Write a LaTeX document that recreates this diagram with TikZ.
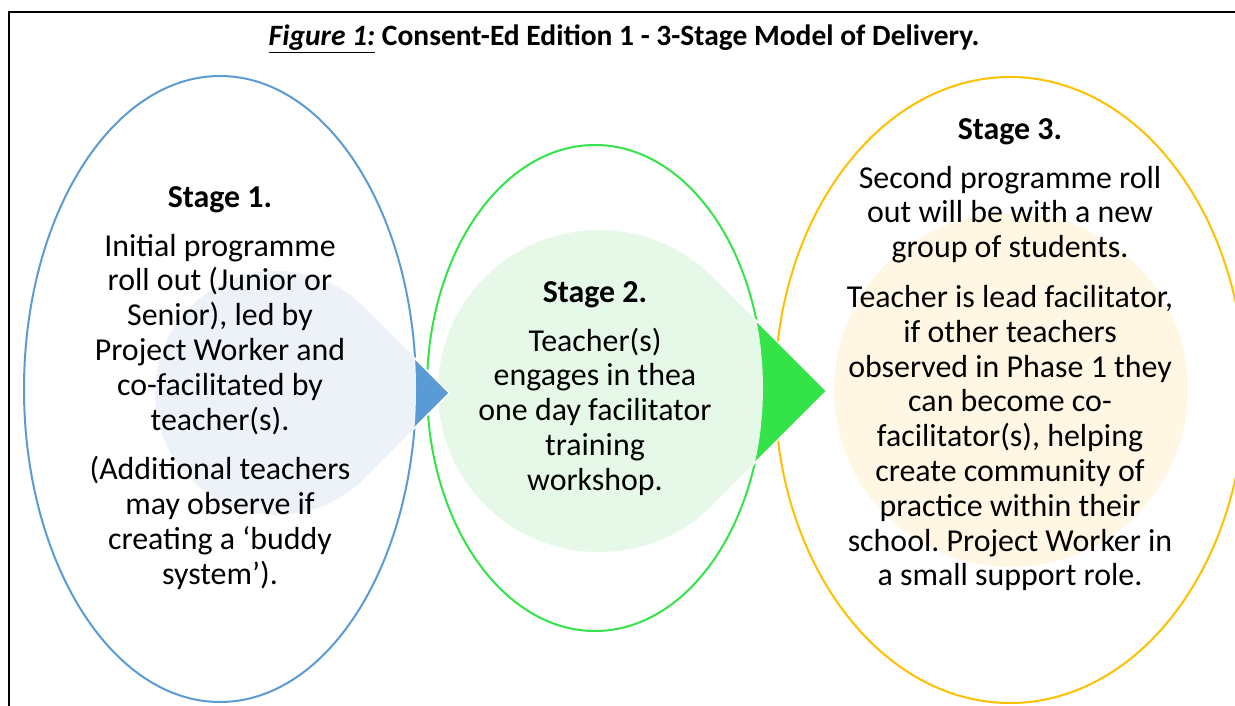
\documentclass[tikz,border=0pt]{standalone}
\usepackage{fontspec}
\setmainfont{Carlito}
\frenchspacing
\definecolor{blueline}{HTML}{5B9BD5}
\definecolor{bluelight}{HTML}{EDF2F9}
\definecolor{greenline}{HTML}{33E348}
\definecolor{greenlight}{HTML}{E6F9E8}
\definecolor{yellowline}{HTML}{FFC000}
\definecolor{yellowlight}{HTML}{FFF6E3}
\begin{document}
\begin{tikzpicture}[x=1pt,y=-1pt,
  ring/.style={line width=2pt},
  tipshape/.style={draw=white, line width=1.5pt},
  txt/.style={font=\fontsize{31.9}{34.8}\selectfont\frenchspacing, align=center, inner sep=0pt, text=black},
  ttl/.style={font=\fontsize{29.5}{32}\selectfont\bfseries, inner sep=0pt}]
\useasboundingbox (0,0) rectangle (1235,706);
\clip (0,0) rectangle (1235,706);
% frame
\draw[line width=1.8pt] (9,710) -- (9,12) -- (1240,12);
% ellipses
\draw[ring, blueline] (220,389) ellipse [x radius=196, y radius=313];
\draw[ring, greenline] (595,388) ellipse [x radius=168, y radius=243];
\draw[ring, yellowline] (1010,390) ellipse [x radius=235, y radius=313];
% yellow disc
\fill[yellowlight] (1011,390) circle [radius=177];
% green teardrop
\path[tipshape, fill=greenline] (826.7,391) -- (712.8,277.2) arc[start angle=-45, end angle=-315, radius=161] -- cycle;
\begin{scope}
\clip (595,388) ellipse [x radius=168, y radius=243];
\fill[greenlight] (826.7,391) -- (712.8,277.2) arc[start angle=-45, end angle=-315, radius=161] -- cycle;
\end{scope}
% blue teardrop
\path[tipshape, fill=blueline] (449.5,393) -- (363.3,306.7) arc[start angle=-45, end angle=-315, radius=122] -- cycle;
\begin{scope}
\clip (220,389) ellipse [x radius=196, y radius=313];
\fill[bluelight] (449.5,393) -- (363.3,306.7) arc[start angle=-45, end angle=-315, radius=122] -- cycle;
\end{scope}
% title
\node[ttl, anchor=base] (title) at (624,46) {\underline{\textit{Figure 1:}} Consent-Ed Edition 1 - 3-Stage Model of Delivery.};
% texts
\node[txt, anchor=north] (s1) at (220,182) {\rule{0pt}{25pt}\textbf{Stage 1.}\\[14pt]
Initial programme\\ roll out (Junior or\\ Senior), led by\\ Project Worker and\\ co-facilitated by\\ teacher(s).\\[15pt]
(Additional teachers\\ may observe if\\ creating a ‘buddy\\ system’).};
\node[txt, anchor=north] (s2) at (595,277) {\rule{0pt}{25pt}\textbf{Stage 2.}\\[14pt]
Teacher(s)\\ engages in thea\\ one day facilitator\\ training\\ workshop.};
\node[txt, anchor=north] (s3) at (1010,114) {\rule{0pt}{25pt}\textbf{Stage 3.}\\[14pt]
Second programme roll\\ out will be with a new\\ group of students.\\[15pt]
Teacher is lead facilitator,\\ if other teachers\\ observed in Phase 1 they\\ can become co-\\ facilitator(s), helping\\ create community of\\ practice within their\\ school. Project Worker in\\ a small support role.};
\end{tikzpicture}
\end{document}
